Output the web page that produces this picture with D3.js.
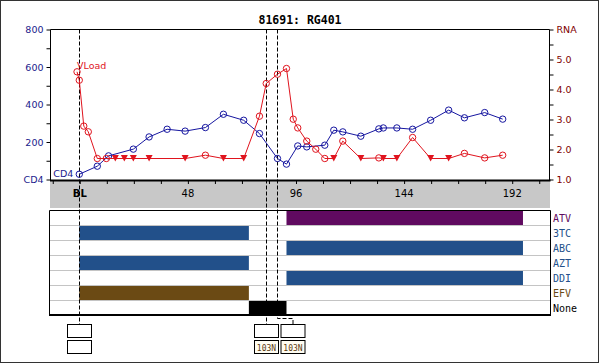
<!DOCTYPE html>
<meta charset="utf-8">
<style>
body { margin: 0; background: #fff; }
svg text { font-family: "DejaVu Sans", sans-serif; }
.mono { font-family: "DejaVu Sans Mono", monospace; }
.axis path { display: none; }
</style>
<body>
<div id="chart"></div>
</body>
<script src="https://cdn.jsdelivr.net/npm/d3@7"></script>
<script>

var w = 600,
    h = 364;

// CD4 counts (cells/uL) by week
var cd4Weeks = [0, 8, 13, 24, 31, 39, 47, 56, 64, 73, 80, 88, 92, 97, 101, 109, 113, 117, 125, 133, 135, 141, 148, 156, 164, 171, 180, 188];
var cd4Vals  = [28, 71, 126, 162, 227, 268, 258, 277, 348, 316, 245, 112, 82, 179, 174, 183, 263, 254, 231, 270, 275, 275, 268, 316, 370, 329, 357, 322];

// viral load (log10 copies) by week, 1 = below detection
var vlWeeks = [-1, 0, 2, 4, 8, 12, 16, 20, 24, 31, 47, 56, 64, 73, 80, 83, 88, 92, 95, 97, 101, 105, 109, 113, 117, 125, 133, 135, 141, 148, 156, 164, 171, 180, 188];
var vlVals  = [4.59, 4.31, 2.78, 2.59, 1.7, 1.7, 1.7, 1.7, 1.7, 1.7, 1.7, 1.81, 1.7, 1.7, 3.11, 4.2, 4.51, 4.7, 3.01, 2.72, 2.28, 2.01, 1.7, 1.7, 2.28, 1.7, 1.72, 1.7, 1.7, 2.4, 1.7, 1.7, 1.87, 1.72, 1.81];
var vlBelow = [0, 0, 0, 0, 0, 0, 1, 1, 1, 1, 1, 0, 1, 1, 0, 0, 0, 0, 0, 0, 0, 0, 0, 1, 0, 1, 0, 1, 1, 0, 1, 1, 0, 0, 0];

// drug rows and treatment periods
var drugs = ["ATV", "3TC", "ABC", "AZT", "DDI", "EFV", "None"];
var drugColors = ["#600a60", "#22508a", "#22508a", "#22508a", "#22508a", "#6b4a14", "#000000"];
var rxDrug  = ["3TC", "AZT", "EFV", "None", "ATV", "ABC", "DDI"];
var rxStart = [0, 0, 0, 75.3, 92, 92, 92];
var rxEnd   = [75.3, 75.3, 75.3, 92, 197, 197, 197];

// genotype events
var eventWeeks = [0, 83, 88];
var eventRT = ["", "", ""];
var eventPR = ["", "103N", "103N"];

var xTicks = d3.range(-12, 205, 12);
var xLabels = {0: "BL", 48: "48", 96: "96", 144: "144", 192: "192"};

var blue = "#1616a0",
    red = "#e0141e",
    navy = "#1a1a8c",
    maroon = "#800000";

var svg = d3.select("#chart").append("svg")
    .attr("width", w)
    .attr("height", h);

svg.append("rect")
    .attr("x", 0.5).attr("y", 0.5)
    .attr("width", 598).attr("height", 362)
    .attr("fill", "#fff").attr("stroke", "#333");

var x = d3.scaleLinear().domain([-13, 209]).range([50, 550]);
var yCD4 = d3.scaleLinear().domain([0, 800]).range([179.5, 29.5]);
var yVL = d3.scaleLinear().domain([1, 6]).range([179.5, 29.5]);

svg.append("text")
    .attr("class", "mono")
    .attr("x", 300).attr("y", 24)
    .attr("text-anchor", "middle")
    .attr("font-size", 11.5)
    .attr("font-weight", "bold")
    .text("81691: RG401");

// gray time band
svg.append("rect")
    .attr("x", 50).attr("y", 181)
    .attr("width", 500).attr("height", 27)
    .attr("fill", "#c8c8c8");

// plot frame
svg.append("path")
    .attr("d", "M50.5,180V29.5H549.5V180")
    .attr("fill", "none").attr("stroke", "#000");
svg.append("line")
    .attr("x1", 50).attr("x2", 550.5)
    .attr("y1", 180.5).attr("y2", 180.5)
    .attr("stroke", "#000").attr("stroke-width", 2);

// left axis
var left = svg.append("g")
    .attr("class", "axis")
    .attr("transform", "translate(50.5,0)")
    .call(d3.axisLeft(yCD4)
      .tickValues(d3.range(0, 801, 100))
      .tickSize(4)
      .tickPadding(3)
      .tickFormat(function(d) { return d === 0 ? "CD4" : (d % 200 === 0 ? d : ""); }));
left.selectAll("line").attr("stroke", "#000");
left.selectAll("text").attr("fill", navy).attr("font-size", 9.5)
    .attr("font-family", "DejaVu Sans, sans-serif");

// right axis
var right = svg.append("g")
    .attr("class", "axis")
    .attr("transform", "translate(549.5,0)")
    .call(d3.axisRight(yVL)
      .tickValues(d3.range(1, 6.01, 0.5))
      .tickSize(4)
      .tickPadding(3)
      .tickFormat(function(d) { return d === 6 ? "RNA" : (d % 1 === 0 ? d.toFixed(1) : ""); }));
right.selectAll("line").attr("stroke", "#000");
right.selectAll("text").attr("fill", maroon).attr("font-size", 9.5)
    .attr("font-family", "DejaVu Sans Mono, monospace");

// bottom axis
var bottom = svg.append("g")
    .attr("class", "axis")
    .attr("transform", "translate(0,181)")
    .call(d3.axisBottom(x)
      .tickValues(xTicks)
      .tickSize(3)
      .tickPadding(6)
      .tickFormat(function(d) { return xLabels[d] || ""; }));
bottom.selectAll("line").attr("stroke", "#000").attr("transform", "translate(0.5,0)");
bottom.selectAll("text").attr("fill", "#000").attr("font-size", 10)
    .attr("font-family", "DejaVu Sans, sans-serif")
    .attr("font-weight", function(d) { return d === 0 ? "bold" : "normal"; });

// drug panel
var rowH = 15, panelTop = 210;
var yRow = d3.scaleBand().domain(drugs).range([panelTop, panelTop + rowH * drugs.length]);

svg.append("rect")
    .attr("x", 50).attr("y", panelTop)
    .attr("width", 500).attr("height", rowH * drugs.length)
    .attr("fill", "#fff");

svg.selectAll(".rowline")
    .data(drugs.slice(1))
  .enter().append("line")
    .attr("x1", 50).attr("x2", 550)
    .attr("y1", function(d) { return yRow(d) + 0.5; })
    .attr("y2", function(d) { return yRow(d) + 0.5; })
    .attr("stroke", "#c4c4c4");

svg.selectAll(".rx")
    .data(d3.range(rxDrug.length))
  .enter().append("rect")
    .attr("x", function(i) { return x(rxStart[i]); })
    .attr("width", function(i) { return x(rxEnd[i]) - x(rxStart[i]); })
    .attr("y", function(i) { return yRow(rxDrug[i]) + 1; })
    .attr("height", rowH - 1)
    .attr("fill", function(i) { return drugColors[drugs.indexOf(rxDrug[i])]; });

svg.selectAll(".druglabel")
    .data(drugs)
  .enter().append("text")
    .attr("class", "mono")
    .attr("x", 553)
    .attr("y", function(d) { return yRow(d) + 11.5; })
    .attr("font-size", 10)
    .attr("fill", function(d, i) { return drugColors[i]; })
    .text(function(d) { return d; });

svg.append("path")
    .attr("d", "M49.5,314.5V210.5H550.5V314.5")
    .attr("fill", "none").attr("stroke", "#000");
svg.append("line")
    .attr("x1", 49).attr("x2", 551)
    .attr("y1", 315).attr("y2", 315)
    .attr("stroke", "#000").attr("stroke-width", 2);

// genotype event lines and boxes
var boxW = 24, boxH = 13, boxTop = 324;
var prevRight = -Infinity;
eventWeeks.forEach(function(wk, i) {
  var ex = Math.round(x(wk)) + 0.5;
  var cx = ex;
  if (cx - boxW / 2 < prevRight + 2) cx = prevRight + 2.5 + boxW / 2;
  prevRight = cx + boxW / 2;

  var d = "M" + ex + ",29.5V";
  if (cx === ex) d += boxTop;
  else d += "318.5H" + cx + "V" + boxTop;
  svg.append("path")
      .attr("d", d)
      .attr("fill", "none")
      .attr("stroke", "#000")
      .attr("stroke-dasharray", "4,2");

  svg.append("rect")
      .attr("x", cx - boxW / 2).attr("y", boxTop + 0.5)
      .attr("width", boxW).attr("height", boxH)
      .attr("fill", "#fff").attr("stroke", "#000");
  if (eventRT[i]) svg.append("text").attr("class", "mono")
      .attr("x", cx).attr("y", boxTop + 10).attr("text-anchor", "middle")
      .attr("font-size", 8).attr("fill", "#5a3a10").text(eventRT[i]);

  svg.append("rect")
      .attr("x", cx - boxW / 2).attr("y", boxTop + 16.5)
      .attr("width", boxW).attr("height", boxH)
      .attr("fill", eventPR[i] ? "#fffdf2" : "#fff").attr("stroke", "#000");
  if (eventPR[i]) svg.append("text").attr("class", "mono")
      .attr("x", cx).attr("y", boxTop + 26.5).attr("text-anchor", "middle")
      .attr("font-size", 8).attr("fill", "#5a3a10").text(eventPR[i]);
});

// CD4 series
var cd4 = cd4Weeks.map(function(wk, i) { return [x(wk), yCD4(cd4Vals[i])]; });
svg.append("path")
    .attr("d", d3.line()(cd4))
    .attr("fill", "none").attr("stroke", blue);
svg.selectAll(".cd4pt")
    .data(cd4)
  .enter().append("circle")
    .attr("cx", function(d) { return d[0]; })
    .attr("cy", function(d) { return d[1]; })
    .attr("r", 3.2)
    .attr("fill", "none").attr("stroke", blue);

// viral load series
var vl = vlWeeks.map(function(wk, i) { return [x(wk), yVL(vlVals[i]), vlBelow[i]]; });
svg.append("path")
    .attr("d", d3.line()(vl))
    .attr("fill", "none").attr("stroke", red);
svg.selectAll(".vlpt")
    .data(vl.filter(function(d) { return !d[2]; }))
  .enter().append("circle")
    .attr("cx", function(d) { return d[0]; })
    .attr("cy", function(d) { return d[1]; })
    .attr("r", 3.2)
    .attr("fill", "none").attr("stroke", red);
svg.selectAll(".vlbelow")
    .data(vl.filter(function(d) { return d[2]; }))
  .enter().append("path")
    .attr("d", function(d) {
      return "M" + (d[0] - 3.5) + "," + (d[1] - 3.5) + "H" + (d[0] + 3.5) + "L" + d[0] + "," + (d[1] + 3) + "Z";
    })
    .attr("fill", red);

// series labels
svg.append("text")
    .attr("x", cd4[0][0] - 6).attr("y", cd4[0][1] + 3)
    .attr("text-anchor", "end")
    .attr("font-size", 9.5).attr("fill", navy)
    .text("CD4");
svg.append("text")
    .attr("x", vl[0][0]).attr("y", vl[0][1] - 3)
    .attr("font-size", 9.5).attr("fill", red)
    .text("VLoad");

</script>
